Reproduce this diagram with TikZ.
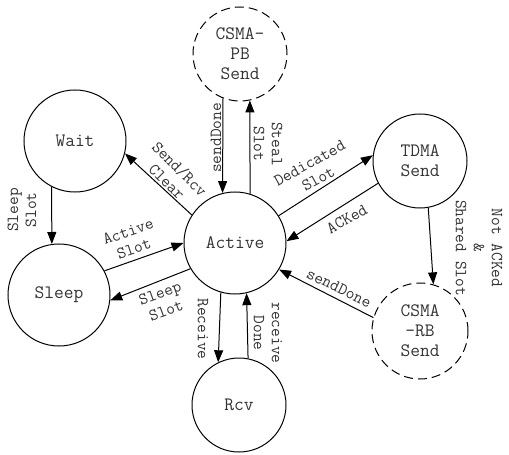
\documentclass[tikz,border=0pt]{standalone}
\usetikzlibrary{arrows.meta}
\begin{document}
\begin{tikzpicture}[x=1bp,y=-1bp,
  st/.style={circle,draw,line width=1bp,minimum size=#1,inner sep=0pt,align=center,
    font=\ttfamily\fontsize{19}{20}\selectfont,text=black!80},
  dst/.style={st=#1,dash pattern=on 9bp off 5bp},
  tr/.style={-{Triangle[length=12bp,width=9bp]},line width=1bp},
  lbl/.style={align=center,font=\ttfamily\fontsize{17}{18}\selectfont,text=black!80,inner sep=0pt}]
\useasboundingbox (0,0) rectangle (509,455);
% states
\node[dst=94bp] (pb) at (240,54) {CSMA-\\PB\\Send};
\node[st=102bp] (wait) at (75,141) {Wait};
\node[st=94bp] (tdma) at (420,161) {TDMA\\Send};
\node[st=102bp] (act) at (235,243) {Active};
\node[st=102bp] (sleep) at (59,295) {Sleep};
\node[dst=96bp] (rb) at (420,331) {CSMA\\-RB\\Send};
\node[st=94bp] (rcv) at (239,405) {Rcv};
% transitions
\draw[tr] (act.147) -- (wait.-14);
\draw[tr] (act.73) -- (pb.-78);
\draw[tr] (pb.-111) -- (act.104);
\draw[tr] (act.32) -- (tdma.173);
\draw[tr] (tdma.208) -- (act.2);
\draw[tr] (tdma.-80) -- (rb.74);
\draw[tr] (rb.164) -- (act.-31);
\draw[tr] (act.-106) -- (rcv.116);
\draw[tr] (rcv.79) -- (act.-77.5);
\draw[tr] (wait.-117) -- (sleep.98);
\draw[tr] (sleep.28) -- (act.180);
\draw[tr] (act.210) -- (sleep.-6);
% labels
\node[lbl,rotate=-45] (l1) at (173.5,175) {Send/Rcv\\Clear};
\node[lbl,rotate=90] (l2) at (216,138) {sendDone};
\node[lbl,rotate=-90] (l3) at (268,144) {Steal\\Slot};
\node[lbl,rotate=29] (l4) at (314,171) {Dedicated\\Slot};
\node[lbl,rotate=29] (l5) at (347,219) {ACKed};
\node[lbl,rotate=-26] (l6) at (339,288) {sendDone};
\node[lbl,rotate=-90] (l7) at (479,248) {Not ACKed\\\&\\Shared Slot};
\node[lbl,rotate=-90] (l8) at (203,329) {Receive};
\node[lbl,rotate=-90] (l9) at (268,333) {receive\\Done};
\node[lbl,rotate=90] (l10) at (22,210) {Sleep\\Slot};
\node[lbl,rotate=19] (l11) at (131,240) {Active\\Slot};
\node[lbl,rotate=20] (l12) at (163,302) {Sleep\\Slot};
\end{tikzpicture}
\end{document}
